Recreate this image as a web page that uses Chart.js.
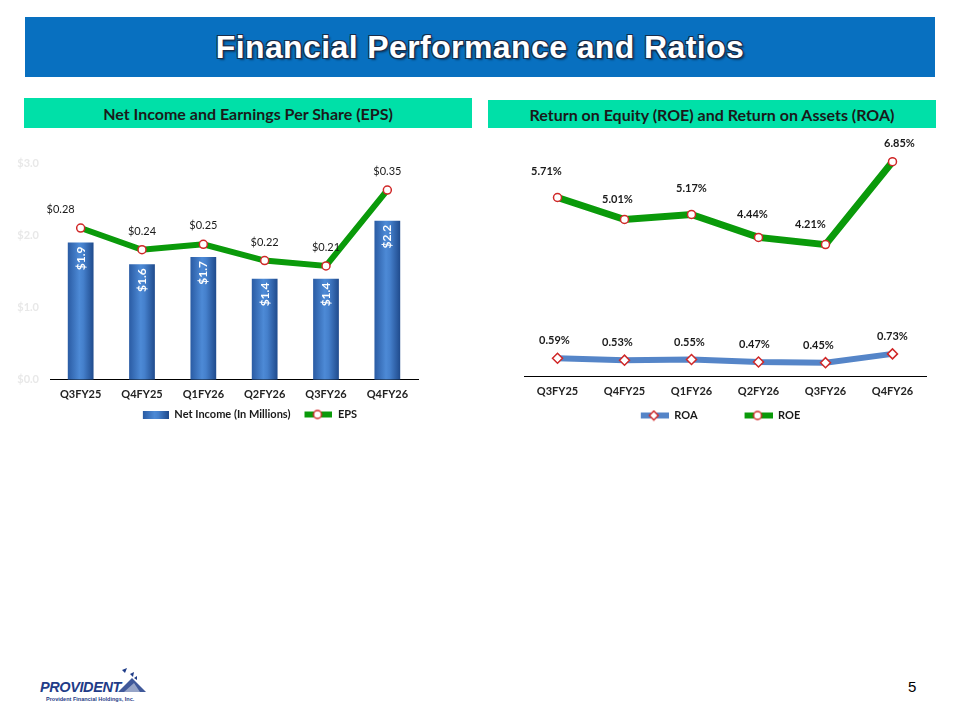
<!DOCTYPE html>
<html>
<head>
<meta charset="utf-8">
<script src="https://cdn.jsdelivr.net/npm/chart.js@4.4.1/dist/chart.umd.min.js"></script>
<style>
  body { margin: 0; width: 960px; height: 720px; background: #fff; position: relative; overflow: hidden; font-family: Lato, "Liberation Sans", sans-serif; }
  .banner { position: absolute; left: 25px; top: 17px; width: 910px; height: 60px; background: #0870c0; }
  .banner h1 { margin: 0; position: absolute; left: 0; right: 0; top: 12px; text-align: center; font: bold 32px "Liberation Sans", Arial, sans-serif; color: #fff; letter-spacing: 0.4px;
    text-shadow: -1px -1px 0 #1b2d4a, 1px -1px 0 #1b2d4a, -1px 1px 0 #1b2d4a, 1px 1px 0 #1b2d4a, 2px 2px 2px rgba(0,0,0,0.45); }
  .sub { position: absolute; display: flex; align-items: center; justify-content: center; background: #00e0a8; font: bold 16px Lato, sans-serif; color: #1a1a1a; }
  canvas.c { position: absolute; }
  .page { position: absolute; left: 908px; top: 678px; font: 15px "Liberation Sans", Arial, sans-serif; color: #000; }
  .logo { position: absolute; left: 38px; top: 668px; width: 120px; height: 40px; }
  .logo .name { position: absolute; left: 2px; top: 11px; font: italic 900 14.5px "Liberation Sans", Arial, sans-serif; color: #1f3c88; letter-spacing: -0.4px; }
  .logo .sm { position: absolute; left: 8px; top: 28px; font: bold 5.5px "Liberation Sans", Arial, sans-serif; color: #1f3c88; white-space: nowrap; }
  .logo svg { position: absolute; left: 74px; top: 0; }
</style>
</head>
<body>
<div class="banner"><h1>Financial Performance and Ratios</h1></div>
<div class="sub" style="left:24px; top:98px; width:448px; height:30px;">Net Income and Earnings Per Share (EPS)</div>
<div class="sub" style="left:488px; top:100px; width:448px; height:28px;">Return on Equity (ROE) and Return on Assets (ROA)</div>

<canvas class="c" id="incomeChart" width="472" height="290" style="left:10px; top:140px;"></canvas>
<canvas class="c" id="ratioChart" width="460" height="301" style="left:480px; top:130px;"></canvas>

<div class="logo">
  <div class="name">PROVIDENT</div>
  <svg width="40" height="28" viewBox="0 0 40 28">
    <polygon points="10,2 15,0 13,5" fill="#1f3c88"/>
    <polygon points="18,6 22,4 21,9" fill="#1f3c88"/>
    <polygon points="22,10 25,8 25,12" fill="#1f3c88"/>
    <polygon points="6,24 20,10 34,24" fill="#1f3c88" opacity="0.85"/>
    <polygon points="12,24 22,15 28,24" fill="#fff" opacity="0.45"/>
  </svg>
  <div class="sm">Provident Financial Holdings, Inc.</div>
</div>
<div class="page">5</div>

<script>
// values
const quarters = ['Q3FY25', 'Q4FY25', 'Q1FY26', 'Q2FY26', 'Q3FY26', 'Q4FY26'];
const netIncome = [1.9, 1.6, 1.7, 1.4, 1.4, 2.2];      // $ millions
const eps = [0.28, 0.24, 0.25, 0.22, 0.21, 0.35];
const roa = [0.59, 0.53, 0.55, 0.47, 0.45, 0.73];       // %
const roe = [5.71, 5.01, 5.17, 4.44, 4.21, 6.85];       // %

const GREEN = '#0a9a0a';
const BLUE_LINE = '#5585c8';
const MARKER_RED = '#d02828';

Chart.defaults.font.family = 'Lato, sans-serif';
Chart.defaults.animation = false;

// horizontal gradient for a bar (dark edges, lighter middle)
function barGradient(c, x0, x1) {
    const g = c.createLinearGradient(x0, 0, x1, 0);
    g.addColorStop(0, '#2a5ba3');
    g.addColorStop(0.45, '#4d8ad6');
    g.addColorStop(0.6, '#4580cc');
    g.addColorStop(1, '#1f4a8c');
    return g;
}

// little canvases used as legend symbols; "lead" is empty space on the left
function barSwatch(lead) {
    const cv = document.createElement('canvas');
    cv.width = 26 + lead; cv.height = 8;
    const c = cv.getContext('2d');
    c.fillStyle = barGradient(c, lead, lead + 26);
    c.fillRect(lead, 0, 26, 8);
    return cv;
}

function lineSwatch(color, marker, lead) {
    const cv = document.createElement('canvas');
    cv.width = 30 + lead; cv.height = 12;
    const c = cv.getContext('2d');
    const mid = lead + 15;
    c.strokeStyle = color;
    c.lineWidth = 6;
    c.beginPath(); c.moveTo(lead + 2, 6); c.lineTo(lead + 30, 6); c.stroke();
    c.fillStyle = '#fff';
    c.strokeStyle = MARKER_RED;
    c.lineWidth = 1.5;
    c.beginPath();
    if (marker === 'diamond') {
        c.moveTo(mid, 1.5); c.lineTo(mid + 4.5, 6); c.lineTo(mid, 10.5); c.lineTo(mid - 4.5, 6); c.closePath();
    } else {
        c.arc(mid, 6, 4, 0, Math.PI * 2);
    }
    c.fill(); c.stroke();
    return cv;
}

// draws the value labels of each dataset (Chart.js has no built-in labels)
const valueLabels = {
    id: 'valueLabels',
    afterDatasetsDraw(chart) {
        const c = chart.ctx;
        chart.data.datasets.forEach((ds, i) => {
            const cfg = ds.valueLabel;
            if (!cfg) return;
            const meta = chart.getDatasetMeta(i);
            meta.data.forEach((el, j) => {
                const text = cfg.fmt(ds.data[j]);
                c.save();
                c.font = cfg.font;
                c.fillStyle = cfg.color;
                if (cfg.rotate) {
                    c.translate(el.x, el.y + 4);
                    c.rotate(-Math.PI / 2);
                    c.textAlign = 'right';
                    c.textBaseline = 'middle';
                    c.fillText(text, 0, 0);
                } else {
                    const dy = Array.isArray(cfg.dy) ? cfg.dy[j] : cfg.dy;
                    c.textAlign = 'center';
                    c.textBaseline = 'bottom';
                    c.fillText(text, el.x + (cfg.dx ? cfg.dx[j] : 0), el.y - dy);
                }
                c.restore();
            });
        });
    }
};

const tickFont = { size: 11, weight: 'bold' };

// ---------- Net income & EPS ----------
new Chart(document.getElementById('incomeChart'), {
    type: 'bar',
    data: {
        labels: quarters,
        datasets: [{
            label: 'Net Income (In Millions)',
            data: netIncome,
            yAxisID: 'y',
            order: 2,
            barPercentage: 0.7,
            categoryPercentage: 0.6,
            backgroundColor: (ctx) => {
                const chart = ctx.chart;
                if (!chart.chartArea || ctx.dataIndex === undefined) return '#3f78c4';
                const x = chart.scales.x.getPixelForValue(ctx.dataIndex);
                return barGradient(chart.ctx, x - 13, x + 13);
            },
            borderWidth: 0,
            valueLabel: { fmt: v => '$' + v.toFixed(1), font: 'bold 12px Lato', color: '#ffffff', rotate: true }
        }, {
            type: 'line',
            label: 'EPS',
            data: eps,
            yAxisID: 'y2',
            order: 1,
            borderColor: GREEN,
            borderWidth: 6,
            tension: 0,
            pointStyle: 'circle',
            pointRadius: 4,
            pointBackgroundColor: '#fff',
            pointBorderColor: MARKER_RED,
            pointBorderWidth: 1.5,
            valueLabel: { fmt: v => '$' + v.toFixed(2), font: '11px Lato', color: '#1a1a1a', dy: 13, dx: [-20, 0, 0, 0, 0, 0] }
        }]
    },
    options: {
        responsive: false,
        layout: { padding: { top: 23, right: 0, left: 0, bottom: 0 } },
        scales: {
            x: {
                grid: { display: false },
                border: { color: '#000', width: 1 },
                ticks: { color: '#222', font: tickFont, padding: 0 }
            },
            y: {
                min: 0, max: 3,
                ticks: { stepSize: 1, color: '#e8e8e8', font: { size: 11, weight: 'bold' }, callback: v => '$' + v.toFixed(1) },
                grid: { display: false },
                border: { display: false },
                afterFit: (s) => { s.width = 40; }
            },
            // EPS axis: not drawn, only reserves blank room on the right
            y2: {
                position: 'right', min: 0, max: 0.4,
                ticks: { display: false },
                grid: { display: false },
                border: { display: false },
                afterFit: (s) => { s.width = 64; }
            }
        },
        plugins: {
            legend: {
                position: 'bottom',
                labels: {
                    usePointStyle: true,
                    pointStyleWidth: 34,
                    padding: 8,
                    color: '#1a1a1a',
                    font: { size: 11, weight: 'bold' },
                    generateLabels: (chart) => chart.data.datasets.map((ds, i) => ({
                        text: ds.label,
                        pointStyle: ds.type === 'line' ? lineSwatch(GREEN, 'circle', 4) : barSwatch(8),
                        datasetIndex: i, fontColor: '#1a1a1a', lineWidth: 0
                    }))
                }
            },
            tooltip: { enabled: false }
        }
    },
    plugins: [valueLabels]
});

// ---------- ROE & ROA ----------
new Chart(document.getElementById('ratioChart'), {
    type: 'line',
    data: {
        labels: quarters,
        datasets: [{
            label: 'ROA',
            data: roa,
            borderColor: BLUE_LINE,
            borderWidth: 6,
            tension: 0,
            pointStyle: 'rectRot',
            pointRadius: 5,
            pointBackgroundColor: '#fff',
            pointBorderColor: MARKER_RED,
            pointBorderWidth: 1.5,
            valueLabel: { fmt: v => v.toFixed(2) + '%', font: 'bold 11px Lato', color: '#1a1a1a', dy: 12, dx: [-3, -7, -2, -4, -7, 0] }
        }, {
            label: 'ROE',
            data: roe,
            borderColor: GREEN,
            borderWidth: 7,
            tension: 0,
            pointStyle: 'circle',
            pointRadius: 4,
            pointBackgroundColor: '#fff',
            pointBorderColor: MARKER_RED,
            pointBorderWidth: 1.5,
            valueLabel: { fmt: v => v.toFixed(2) + '%', font: 'bold 11px Lato', color: '#1a1a1a', dy: [21, 15, 21, 17, 15, 13], dx: [-11, -7, 0, -6, -15, 7] }
        }]
    },
    options: {
        responsive: false,
        layout: { padding: { top: 27, right: 14, left: 44, bottom: 0 } },
        scales: {
            x: {
                offset: true,
                grid: { display: false },
                border: { color: '#000', width: 1 },
                ticks: { color: '#222', font: tickFont, padding: 0 }
            },
            y: { display: false, min: 0, max: 7 }
        },
        plugins: {
            legend: {
                position: 'bottom',
                fullSize: false,
                labels: {
                    usePointStyle: true,
                    pointStyleWidth: 30,
                    padding: 12,
                    color: '#1a1a1a',
                    font: { size: 11, weight: 'bold' },
                    generateLabels: (chart) => chart.data.datasets.map((ds, i) => ({
                        // blank em/en spaces set the wide gap between entries and shift the row left
                        text: i === 0 ? ds.label + '\u2003\u2003\u2003\u2003' : ds.label + '\u2002\u2002',
                        pointStyle: lineSwatch(ds.borderColor, i === 0 ? 'diamond' : 'circle', 0),
                        datasetIndex: i, fontColor: '#1a1a1a', lineWidth: 0
                    }))
                }
            },
            tooltip: { enabled: false }
        }
    },
    plugins: [valueLabels]
});
</script>
</body>
</html>
